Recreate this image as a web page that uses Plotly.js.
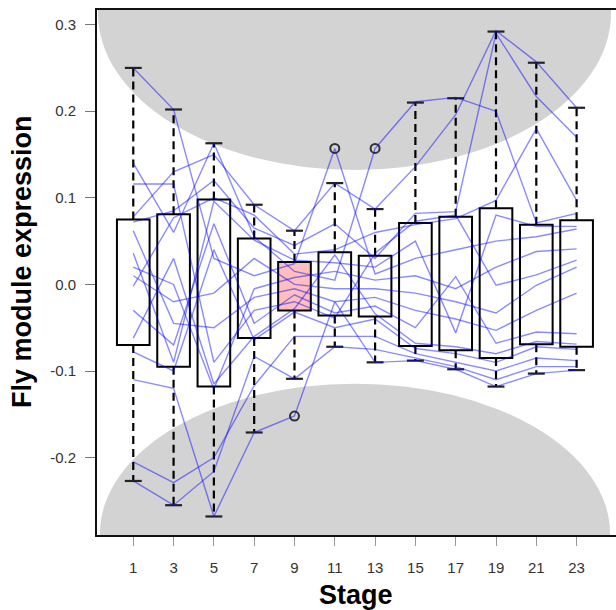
<!DOCTYPE html>
<html>
<head>
<meta charset="utf-8">
<script src="https://cdn.plot.ly/plotly-3.0.1.min.js"></script>
<style>html,body{margin:0;padding:0;background:#fff;overflow:hidden}</style>
</head>
<body>
<div id="chart" style="width:616px;height:610px"></div>
<script>
// Developmental stages (x categories)
const stages = [1, 3, 5, 7, 9, 11, 13, 15, 17, 19, 21, 23];
const stageLabels = ['1','3','5','7','9','11','13','15','17','19','21','23'];

// Box-plot statistics
const boxQ1 = [-0.070, -0.095, -0.118, -0.062, -0.030, -0.036, -0.037, -0.071, -0.076, -0.085, -0.069, -0.072];
const boxQ3 = [0.075, 0.081, 0.098, 0.053, 0.026, 0.037, 0.033, 0.071, 0.078, 0.088, 0.069, 0.074];
const whiskerLow = [-0.227, -0.255, -0.268, -0.171, -0.109, -0.072, -0.090, -0.088, -0.098, -0.118, -0.103, -0.099];
const whiskerHigh = [0.250, 0.202, 0.163, 0.092, 0.062, 0.117, 0.087, 0.210, 0.215, 0.292, 0.256, 0.204];
const outlierStage = [9, 11, 13];
const outlierValue = [-0.152, 0.157, 0.157];
const highlightStage = 9;

// Individual module gene profiles (values at each stage)
const gene01 = [0.250, 0.202, 0.030, 0.010, 0.024, 0.157, 0.012, 0.030, 0.040, 0.050, 0.055, 0.064];
const gene02 = [0.116, 0.116, -0.090, -0.030, -0.020, -0.039, 0.036, 0.073, 0.080, -0.001, 0.011, 0.028];
const gene03 = [0.140, 0.060, 0.163, 0.055, 0.015, 0.005, 0.157, 0.211, 0.216, 0.200, 0.071, 0.082];
const gene04 = [0.078, 0.130, 0.150, 0.092, 0.062, 0.117, 0.087, 0.136, 0.196, 0.293, 0.257, 0.204];
const gene05 = [0.072, 0.085, 0.120, 0.065, 0.045, 0.070, 0.030, 0.082, 0.084, 0.290, 0.217, 0.170];
const gene06 = [-0.002, 0.077, 0.100, 0.080, 0.035, 0.040, 0.060, 0.069, 0.076, 0.097, 0.180, 0.097];
const gene07 = [0.036, -0.090, 0.096, 0.051, 0.028, 0.025, 0.020, 0.050, -0.056, 0.080, 0.067, 0.067];
const gene08 = [0.020, 0.000, -0.121, -0.005, 0.008, 0.015, 0.005, 0.010, -0.005, 0.020, 0.038, 0.041];
const gene09 = [0.010, -0.020, -0.010, 0.030, 0.000, -0.005, -0.005, -0.010, -0.020, -0.033, -0.001, 0.020];
const gene10 = [0.062, -0.045, -0.050, -0.015, -0.005, -0.020, -0.015, -0.030, -0.040, -0.053, -0.030, -0.010];
const gene11 = [-0.030, -0.070, 0.070, -0.045, -0.012, -0.033, -0.025, -0.050, 0.009, -0.068, -0.055, -0.057];
const gene12 = [-0.062, 0.030, -0.115, -0.060, -0.028, 0.034, -0.034, -0.068, -0.072, -0.080, -0.066, -0.069];
const gene13 = [-0.078, -0.100, 0.040, -0.064, -0.032, -0.050, -0.040, -0.074, -0.080, -0.090, -0.072, -0.075];
const gene14 = [-0.205, -0.229, -0.200, -0.117, -0.060, -0.060, -0.060, -0.080, -0.090, -0.100, -0.085, -0.088];
const gene15 = [-0.227, -0.255, -0.216, -0.083, -0.109, -0.072, -0.075, -0.085, -0.095, -0.110, -0.095, -0.095];
const gene16 = [-0.110, -0.120, -0.268, -0.171, -0.152, -0.020, -0.090, -0.088, -0.098, -0.118, -0.103, -0.099];
const genes = [gene01, gene02, gene03, gene04, gene05, gene06, gene07, gene08,
               gene09, gene10, gene11, gene12, gene13, gene14, gene15, gene16];

// Axis ticks
const yTicks = [-0.2, -0.1, 0.0, 0.1, 0.2, 0.3];
const yTickLabels = ['-0.2', '-0.1', '0.0', '0.1', '0.2', '0.3'];

// ---- styling ----
const boxWidth = 1.62;
const capHalf = 0.42;

const traces = [];

// boxes
traces.push({
  type: 'bar',
  x: stages,
  base: boxQ1,
  y: stages.map((s, i) => boxQ3[i] - boxQ1[i]),
  width: stages.map(() => boxWidth),
  marker: {
    color: stages.map(s => s === highlightStage ? '#ffbfbf' : '#ffffff'),
    line: {color: '#000', width: 2}
  },
  hoverinfo: 'skip'
});

// dashed whiskers
const wx = [], wy = [];
stages.forEach((s, i) => {
  wx.push(s, s, null, s, s, null);
  wy.push(boxQ3[i], whiskerHigh[i], null, boxQ1[i], whiskerLow[i], null);
});
traces.push({type: 'scatter', mode: 'lines', x: wx, y: wy,
  line: {color: '#000', width: 2.2, dash: '8px,5px'}, hoverinfo: 'skip'});

// caps
const cx = [], cy = [];
stages.forEach((s, i) => {
  cx.push(s - capHalf, s + capHalf, null, s - capHalf, s + capHalf, null);
  cy.push(whiskerHigh[i], whiskerHigh[i], null, whiskerLow[i], whiskerLow[i], null);
});
traces.push({type: 'scatter', mode: 'lines', x: cx, y: cy,
  line: {color: '#222', width: 2.2}, hoverinfo: 'skip'});

// outliers
traces.push({type: 'scatter', mode: 'markers', x: outlierStage, y: outlierValue,
  marker: {symbol: 'circle-open', size: 9, color: '#333', line: {width: 2, color: '#333'}},
  hoverinfo: 'skip'});

// gene lines
genes.forEach(g => {
  traces.push({type: 'scatter', mode: 'lines', x: stages, y: g,
    line: {color: 'rgba(0,0,255,0.46)', width: 1.4}, hoverinfo: 'skip'});
});

const layout = {
  width: 616, height: 610,
  margin: {l: 97, r: 0, t: 10, b: 75, pad: 0},
  paper_bgcolor: '#fff', plot_bgcolor: '#fff',
  showlegend: false, hovermode: false,
  font: {family: 'Liberation Sans, Arial, sans-serif', color: '#222'},
  xaxis: {
    range: [-0.80, 24.955], tickvals: stages, ticktext: stageLabels,
    ticks: 'outside', ticklen: 9, tickwidth: 1, tickcolor: '#999',
    showline: true, mirror: true, linecolor: '#111', linewidth: 2,
    showgrid: false, zeroline: false, ticklabelstandoff: 9,
    tickfont: {size: 15, color: '#333'}
  },
  yaxis: {
    range: [-0.2894, 0.3169], tickvals: yTicks, ticktext: yTickLabels,
    ticks: 'outside', ticklen: 10, tickwidth: 1, tickcolor: '#777',
    showline: true, mirror: false, linecolor: '#111', linewidth: 2,
    showgrid: false, zeroline: false, ticklabelstandoff: 6,
    tickfont: {size: 15, color: '#333'}
  },
  shapes: [
    {type: 'circle', xref: 'x', yref: 'y', layer: 'below',
     x0: -0.752, x1: 24.71, y0: 0.1321, y1: 0.4947,
     fillcolor: '#d3d3d3', line: {width: 0}},
    {type: 'circle', xref: 'x', yref: 'y', layer: 'below',
     x0: -0.653, x1: 24.66, y0: -0.461, y1: -0.1146,
     fillcolor: '#d3d3d3', line: {width: 0}}
  ],
  annotations: [
    {text: '<b>Stage</b>', xref: 'paper', yref: 'paper', x: 0.4996, y: -0.114,
     xanchor: 'center', yanchor: 'middle', showarrow: false,
     font: {size: 27, color: '#000'}},
    {text: '<b>Fly module expression</b>', xref: 'paper', yref: 'paper', x: -0.1435, y: 0.521,
     xanchor: 'center', yanchor: 'middle', showarrow: false, textangle: -90,
     font: {size: 27, color: '#000'}}
  ]
};

Plotly.newPlot('chart', traces, layout, {displayModeBar: false, staticPlot: true});
</script>
</body>
</html>
